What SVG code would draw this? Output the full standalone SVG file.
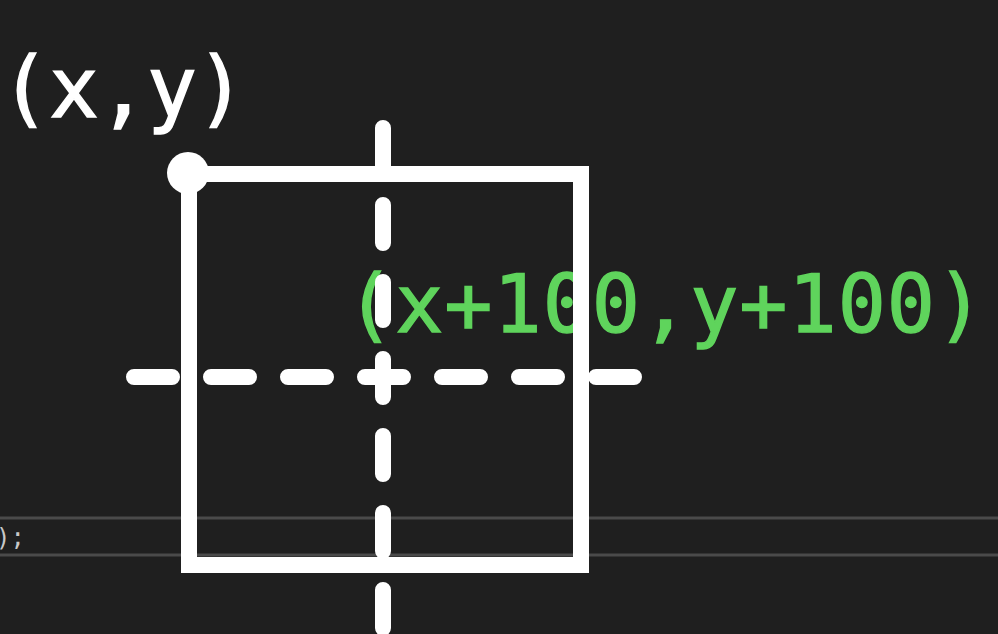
<svg xmlns="http://www.w3.org/2000/svg" width="998" height="634" viewBox="0 0 998 634">
  <style>
    .bg { fill: #1f1f1f; }
    .rule { stroke: #4a4a4a; stroke-width: 3; }
    .guide { stroke: #ffffff; stroke-width: 16; stroke-linecap: round; stroke-dasharray: 38 39; fill: none; }
    .mono { font-family: "DejaVu Sans Mono", "Liberation Mono", monospace; }
    .white { fill: #ffffff; stroke: #ffffff; stroke-width: 1.4; }
    .green { fill: #5fd45c; stroke: #5fd45c; stroke-width: 1.4; }
  </style>
  <rect class="bg" x="0" y="0" width="998" height="634"/>
  <g id="editor-background">
    <line class="rule" x1="0" y1="518" x2="998" y2="518"/>
    <line class="rule" x1="0" y1="555" x2="998" y2="555"/>
    <text class="mono" x="-4" y="546" font-size="24" fill="#c8c8c8">);</text>
  </g>
  <g id="label-center">
    <text class="mono green" x="346" y="332" font-size="80" letter-spacing="1">(x+100,y+100)</text>
  </g>
  <g id="connectors">
    <path class="guide" d="M383 128 V640"/>
    <path class="guide" d="M134 377 H640"/>
  </g>
  <g id="square">
    <rect x="189" y="174" width="392" height="391" fill="none" stroke="#ffffff" stroke-width="16"/>
  </g>
  <g id="origin-point">
    <circle cx="188" cy="173" r="21" fill="#ffffff"/>
  </g>
  <g id="label-origin">
    <text class="mono white" x="0" y="117" font-size="83" letter-spacing="-1">(x,y)</text>
  </g>
</svg>
